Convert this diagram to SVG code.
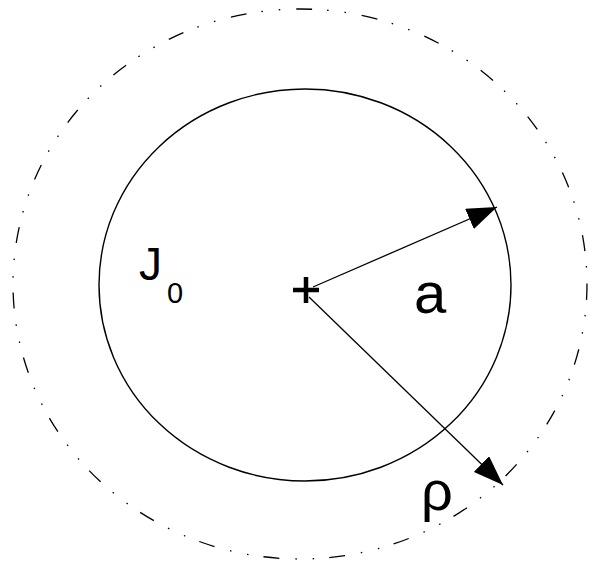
<svg xmlns="http://www.w3.org/2000/svg" width="589" height="563" viewBox="0 0 589 563">
<style>
.outline{fill:none;stroke:#000;}
.lbl{font-family:"Liberation Sans",Arial,sans-serif;fill:#000;}
</style>
<defs>
<marker id="ah" markerWidth="32" markerHeight="22" refX="30" refY="11" orient="auto" markerUnits="userSpaceOnUse">
<path d="M0,0 L30,11 L0,22 Z" fill="#000"/>
</marker>
</defs>
<rect width="589" height="563" fill="#fff"/>
<g id="outer-region">
<ellipse class="outline" cx="300" cy="284" rx="287" ry="275" stroke-width="1.3" stroke-dasharray="16 15 1.5 16 1.5 16"/>
</g>
<g id="conductor">
<ellipse class="outline" cx="305" cy="285" rx="206" ry="196" stroke-width="1.4"/>
</g>
<g id="center">
<path d="M293,290 H319 M306,277 V303" stroke="#000" stroke-width="4.5" fill="none"/>
</g>
<g id="connectors">
<line x1="313" y1="287" x2="497" y2="207" stroke="#000" stroke-width="1.3" marker-end="url(#ah)"/>
<line x1="309" y1="297" x2="503" y2="485" stroke="#000" stroke-width="1.3" marker-end="url(#ah)"/>
</g>
<g id="labels">
<text class="lbl" x="139" y="280" font-size="46">J</text>
<text class="lbl" x="167" y="303" font-size="29">0</text>
<text class="lbl" x="414" y="313" font-size="58">a</text>
<text class="lbl" x="421" y="510" font-size="56">ρ</text>
</g>
</svg>
